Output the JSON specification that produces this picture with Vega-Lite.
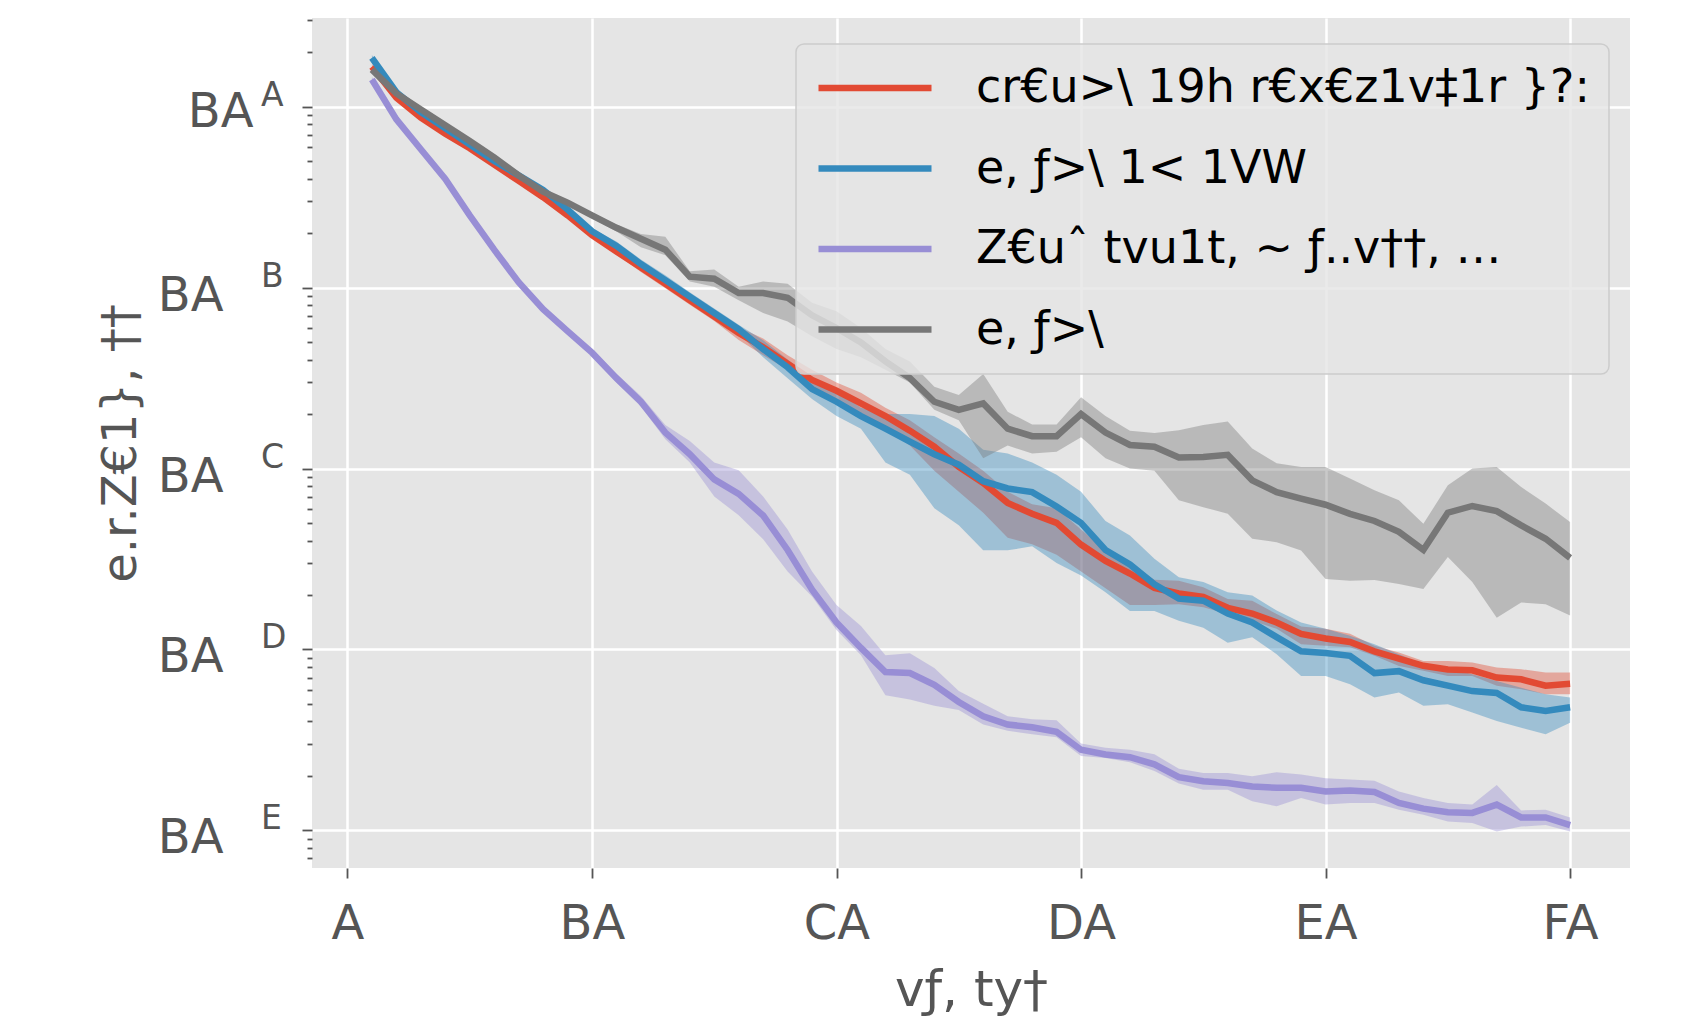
{
"$schema": "https://vega.github.io/schema/vega-lite/v6.json",
"autosize": {"type": "none"},
"padding": {"left": 312, "top": 18, "right": 59, "bottom": 156},
"width": 1318, "height": 850,
"background": "#FFFFFF",
"datasets": {
"runs": [
{"m":"cr€u>\\ 19h r€x€z1v‡1r }?:","x":1,"y":1.66,"lo":1.604,"hi":1.718},
{"m":"cr€u>\\ 19h r€x€z1v‡1r }?:","x":2,"y":1.122,"lo":1.084,"hi":1.161},
{"m":"cr€u>\\ 19h r€x€z1v‡1r }?:","x":3,"y":0.871,"lo":0.841,"hi":0.901},
{"m":"cr€u>\\ 19h r€x€z1v‡1r }?:","x":4,"y":0.708,"lo":0.684,"hi":0.733},
{"m":"cr€u>\\ 19h r€x€z1v‡1r }?:","x":5,"y":0.589,"lo":0.569,"hi":0.61},
{"m":"cr€u>\\ 19h r€x€z1v‡1r }?:","x":6,"y":0.479,"lo":0.463,"hi":0.496},
{"m":"cr€u>\\ 19h r€x€z1v‡1r }?:","x":7,"y":0.389,"lo":0.376,"hi":0.403},
{"m":"cr€u>\\ 19h r€x€z1v‡1r }?:","x":8,"y":0.316,"lo":0.305,"hi":0.327},
{"m":"cr€u>\\ 19h r€x€z1v‡1r }?:","x":9,"y":0.251,"lo":0.242,"hi":0.26},
{"m":"cr€u>\\ 19h r€x€z1v‡1r }?:","x":10,"y":0.195,"lo":0.188,"hi":0.202},
{"m":"cr€u>\\ 19h r€x€z1v‡1r }?:","x":11,"y":0.158,"lo":0.153,"hi":0.164},
{"m":"cr€u>\\ 19h r€x€z1v‡1r }?:","x":12,"y":0.129,"lo":0.122,"hi":0.137},
{"m":"cr€u>\\ 19h r€x€z1v‡1r }?:","x":13,"y":0.105,"lo":0.0991,"hi":0.111},
{"m":"cr€u>\\ 19h r€x€z1v‡1r }?:","x":14,"y":0.0851,"lo":0.0803,"hi":0.0901},
{"m":"cr€u>\\ 19h r€x€z1v‡1r }?:","x":15,"y":0.0692,"lo":0.0653,"hi":0.0733},
{"m":"cr€u>\\ 19h r€x€z1v‡1r }?:","x":16,"y":0.0562,"lo":0.0513,"hi":0.0603},
{"m":"cr€u>\\ 19h r€x€z1v‡1r }?:","x":17,"y":0.0468,"lo":0.0423,"hi":0.0524},
{"m":"cr€u>\\ 19h r€x€z1v‡1r }?:","x":18,"y":0.038,"lo":0.0351,"hi":0.0423},
{"m":"cr€u>\\ 19h r€x€z1v‡1r }?:","x":19,"y":0.0309,"lo":0.0283,"hi":0.0351},
{"m":"cr€u>\\ 19h r€x€z1v‡1r }?:","x":20,"y":0.0269,"lo":0.0242,"hi":0.0299},
{"m":"cr€u>\\ 19h r€x€z1v‡1r }?:","x":21,"y":0.0229,"lo":0.02,"hi":0.0262},
{"m":"cr€u>\\ 19h r€x€z1v‡1r }?:","x":22,"y":0.0195,"lo":0.0166,"hi":0.0217},
{"m":"cr€u>\\ 19h r€x€z1v‡1r }?:","x":23,"y":0.0162,"lo":0.0134,"hi":0.0185},
{"m":"cr€u>\\ 19h r€x€z1v‡1r }?:","x":24,"y":0.0132,"lo":0.00973,"hi":0.0149},
{"m":"cr€u>\\ 19h r€x€z1v‡1r }?:","x":25,"y":0.0102,"lo":0.00745,"hi":0.0121},
{"m":"cr€u>\\ 19h r€x€z1v‡1r }?:","x":26,"y":0.00832,"lo":0.0057,"hi":0.00973},
{"m":"cr€u>\\ 19h r€x€z1v‡1r }?:","x":27,"y":0.00646,"lo":0.00414,"hi":0.00745},
{"m":"cr€u>\\ 19h r€x€z1v‡1r }?:","x":28,"y":0.00562,"lo":0.00382,"hi":0.00635},
{"m":"cr€u>\\ 19h r€x€z1v‡1r }?:","x":29,"y":0.00501,"lo":0.00334,"hi":0.00603},
{"m":"cr€u>\\ 19h r€x€z1v‡1r }?:","x":30,"y":0.0038,"lo":0.0027,"hi":0.00461},
{"m":"cr€u>\\ 19h r€x€z1v‡1r }?:","x":31,"y":0.00309,"lo":0.00218,"hi":0.00353},
{"m":"cr€u>\\ 19h r€x€z1v‡1r }?:","x":32,"y":0.00263,"lo":0.00176,"hi":0.00301},
{"m":"cr€u>\\ 19h r€x€z1v‡1r }?:","x":33,"y":0.00219,"lo":0.00176,"hi":0.00243},
{"m":"cr€u>\\ 19h r€x€z1v‡1r }?:","x":34,"y":0.00204,"lo":0.00178,"hi":0.0024},
{"m":"cr€u>\\ 19h r€x€z1v‡1r }?:","x":35,"y":0.00195,"lo":0.00171,"hi":0.00221},
{"m":"cr€u>\\ 19h r€x€z1v‡1r }?:","x":36,"y":0.0017,"lo":0.00157,"hi":0.0019},
{"m":"cr€u>\\ 19h r€x€z1v‡1r }?:","x":37,"y":0.00158,"lo":0.00144,"hi":0.00186},
{"m":"cr€u>\\ 19h r€x€z1v‡1r }?:","x":38,"y":0.00141,"lo":0.0013,"hi":0.00157},
{"m":"cr€u>\\ 19h r€x€z1v‡1r }?:","x":39,"y":0.00122,"lo":0.00107,"hi":0.00134},
{"m":"cr€u>\\ 19h r€x€z1v‡1r }?:","x":40,"y":0.00115,"lo":0.00105,"hi":0.0013},
{"m":"cr€u>\\ 19h r€x€z1v‡1r }?:","x":41,"y":0.0011,"lo":0.00103,"hi":0.00122},
{"m":"cr€u>\\ 19h r€x€z1v‡1r }?:","x":42,"y":0.000977,"lo":0.000923,"hi":0.00105},
{"m":"cr€u>\\ 19h r€x€z1v‡1r }?:","x":43,"y":0.000891,"lo":0.000811,"hi":0.000962},
{"m":"cr€u>\\ 19h r€x€z1v‡1r }?:","x":44,"y":0.000813,"lo":0.000762,"hi":0.000865},
{"m":"cr€u>\\ 19h r€x€z1v‡1r }?:","x":45,"y":0.000776,"lo":0.000714,"hi":0.000865},
{"m":"cr€u>\\ 19h r€x€z1v‡1r }?:","x":46,"y":0.000767,"lo":0.000714,"hi":0.000847},
{"m":"cr€u>\\ 19h r€x€z1v‡1r }?:","x":47,"y":0.0007,"lo":0.00063,"hi":0.000794},
{"m":"cr€u>\\ 19h r€x€z1v‡1r }?:","x":48,"y":0.000684,"lo":0.000603,"hi":0.000778},
{"m":"cr€u>\\ 19h r€x€z1v‡1r }?:","x":49,"y":0.000631,"lo":0.000565,"hi":0.000745},
{"m":"cr€u>\\ 19h r€x€z1v‡1r }?:","x":50,"y":0.000646,"lo":0.000565,"hi":0.000745},
{"m":"e, ƒ>\\ 1< 1VW","x":1,"y":1.862,"lo":1.799,"hi":1.927},
{"m":"e, ƒ>\\ 1< 1VW","x":2,"y":1.202,"lo":1.161,"hi":1.244},
{"m":"e, ƒ>\\ 1< 1VW","x":3,"y":0.933,"lo":0.901,"hi":0.966},
{"m":"e, ƒ>\\ 1< 1VW","x":4,"y":0.759,"lo":0.733,"hi":0.786},
{"m":"e, ƒ>\\ 1< 1VW","x":5,"y":0.617,"lo":0.596,"hi":0.639},
{"m":"e, ƒ>\\ 1< 1VW","x":6,"y":0.501,"lo":0.484,"hi":0.519},
{"m":"e, ƒ>\\ 1< 1VW","x":7,"y":0.417,"lo":0.403,"hi":0.432},
{"m":"e, ƒ>\\ 1< 1VW","x":8,"y":0.347,"lo":0.335,"hi":0.359},
{"m":"e, ƒ>\\ 1< 1VW","x":9,"y":0.27,"lo":0.261,"hi":0.28},
{"m":"e, ƒ>\\ 1< 1VW","x":10,"y":0.205,"lo":0.198,"hi":0.212},
{"m":"e, ƒ>\\ 1< 1VW","x":11,"y":0.17,"lo":0.16,"hi":0.18},
{"m":"e, ƒ>\\ 1< 1VW","x":12,"y":0.135,"lo":0.127,"hi":0.143},
{"m":"e, ƒ>\\ 1< 1VW","x":13,"y":0.11,"lo":0.104,"hi":0.117},
{"m":"e, ƒ>\\ 1< 1VW","x":14,"y":0.0891,"lo":0.0841,"hi":0.0944},
{"m":"e, ƒ>\\ 1< 1VW","x":15,"y":0.0724,"lo":0.0683,"hi":0.0767},
{"m":"e, ƒ>\\ 1< 1VW","x":16,"y":0.0589,"lo":0.0556,"hi":0.0624},
{"m":"e, ƒ>\\ 1< 1VW","x":17,"y":0.0457,"lo":0.0412,"hi":0.0511},
{"m":"e, ƒ>\\ 1< 1VW","x":18,"y":0.0363,"lo":0.0316,"hi":0.0401},
{"m":"e, ƒ>\\ 1< 1VW","x":19,"y":0.0275,"lo":0.0242,"hi":0.0316},
{"m":"e, ƒ>\\ 1< 1VW","x":20,"y":0.0234,"lo":0.0195,"hi":0.0269},
{"m":"e, ƒ>\\ 1< 1VW","x":21,"y":0.0195,"lo":0.0166,"hi":0.0217},
{"m":"e, ƒ>\\ 1< 1VW","x":22,"y":0.0166,"lo":0.0108,"hi":0.02},
{"m":"e, ƒ>\\ 1< 1VW","x":23,"y":0.0141,"lo":0.00923,"hi":0.02},
{"m":"e, ƒ>\\ 1< 1VW","x":24,"y":0.012,"lo":0.00603,"hi":0.0195},
{"m":"e, ƒ>\\ 1< 1VW","x":25,"y":0.0105,"lo":0.00486,"hi":0.0166},
{"m":"e, ƒ>\\ 1< 1VW","x":26,"y":0.00851,"lo":0.00353,"hi":0.0127},
{"m":"e, ƒ>\\ 1< 1VW","x":27,"y":0.00776,"lo":0.00353,"hi":0.0121},
{"m":"e, ƒ>\\ 1< 1VW","x":28,"y":0.00741,"lo":0.00372,"hi":0.0108},
{"m":"e, ƒ>\\ 1< 1VW","x":29,"y":0.00617,"lo":0.00301,"hi":0.00923},
{"m":"e, ƒ>\\ 1< 1VW","x":30,"y":0.00501,"lo":0.00256,"hi":0.00745},
{"m":"e, ƒ>\\ 1< 1VW","x":31,"y":0.00355,"lo":0.00207,"hi":0.00513},
{"m":"e, ƒ>\\ 1< 1VW","x":32,"y":0.00295,"lo":0.00163,"hi":0.00426},
{"m":"e, ƒ>\\ 1< 1VW","x":33,"y":0.00229,"lo":0.00163,"hi":0.00317},
{"m":"e, ƒ>\\ 1< 1VW","x":34,"y":0.00191,"lo":0.00144,"hi":0.00251},
{"m":"e, ƒ>\\ 1< 1VW","x":35,"y":0.00186,"lo":0.00132,"hi":0.00236},
{"m":"e, ƒ>\\ 1< 1VW","x":36,"y":0.00158,"lo":0.00109,"hi":0.00207},
{"m":"e, ƒ>\\ 1< 1VW","x":37,"y":0.00141,"lo":0.00117,"hi":0.00199},
{"m":"e, ƒ>\\ 1< 1VW","x":38,"y":0.00117,"lo":0.000942,"hi":0.00164},
{"m":"e, ƒ>\\ 1< 1VW","x":39,"y":0.000977,"lo":0.000714,"hi":0.00141},
{"m":"e, ƒ>\\ 1< 1VW","x":40,"y":0.000955,"lo":0.000714,"hi":0.0013},
{"m":"e, ƒ>\\ 1< 1VW","x":41,"y":0.000923,"lo":0.000643,"hi":0.00119},
{"m":"e, ƒ>\\ 1< 1VW","x":42,"y":0.000741,"lo":0.000542,"hi":0.00107},
{"m":"e, ƒ>\\ 1< 1VW","x":43,"y":0.000759,"lo":0.000578,"hi":0.000942},
{"m":"e, ƒ>\\ 1< 1VW","x":44,"y":0.000676,"lo":0.000488,"hi":0.00083},
{"m":"e, ƒ>\\ 1< 1VW","x":45,"y":0.000631,"lo":0.000498,"hi":0.000794},
{"m":"e, ƒ>\\ 1< 1VW","x":46,"y":0.000589,"lo":0.000448,"hi":0.000729},
{"m":"e, ƒ>\\ 1< 1VW","x":47,"y":0.000575,"lo":0.000402,"hi":0.00067},
{"m":"e, ƒ>\\ 1< 1VW","x":48,"y":0.000479,"lo":0.000369,"hi":0.000615},
{"m":"e, ƒ>\\ 1< 1VW","x":49,"y":0.000457,"lo":0.00034,"hi":0.000565},
{"m":"e, ƒ>\\ 1< 1VW","x":50,"y":0.000479,"lo":0.000394,"hi":0.000542},
{"m":"Z€uˆ tvu1t, ~ ƒ..v††, …","x":1,"y":1.413,"lo":1.365,"hi":1.462},
{"m":"Z€uˆ tvu1t, ~ ƒ..v††, …","x":2,"y":0.851,"lo":0.822,"hi":0.881},
{"m":"Z€uˆ tvu1t, ~ ƒ..v††, …","x":3,"y":0.582,"lo":0.562,"hi":0.602},
{"m":"Z€uˆ tvu1t, ~ ƒ..v††, …","x":4,"y":0.398,"lo":0.384,"hi":0.412},
{"m":"Z€uˆ tvu1t, ~ ƒ..v††, …","x":5,"y":0.251,"lo":0.242,"hi":0.26},
{"m":"Z€uˆ tvu1t, ~ ƒ..v††, …","x":6,"y":0.162,"lo":0.156,"hi":0.168},
{"m":"Z€uˆ tvu1t, ~ ƒ..v††, …","x":7,"y":0.107,"lo":0.103,"hi":0.111},
{"m":"Z€uˆ tvu1t, ~ ƒ..v††, …","x":8,"y":0.0759,"lo":0.0733,"hi":0.0786},
{"m":"Z€uˆ tvu1t, ~ ƒ..v††, …","x":9,"y":0.0575,"lo":0.0555,"hi":0.0595},
{"m":"Z€uˆ tvu1t, ~ ƒ..v††, …","x":10,"y":0.0437,"lo":0.0422,"hi":0.0452},
{"m":"Z€uˆ tvu1t, ~ ƒ..v††, …","x":11,"y":0.0316,"lo":0.0298,"hi":0.0335},
{"m":"Z€uˆ tvu1t, ~ ƒ..v††, …","x":12,"y":0.0234,"lo":0.022,"hi":0.0252},
{"m":"Z€uˆ tvu1t, ~ ƒ..v††, …","x":13,"y":0.0158,"lo":0.0145,"hi":0.0174},
{"m":"Z€uˆ tvu1t, ~ ƒ..v††, …","x":14,"y":0.012,"lo":0.0108,"hi":0.0142},
{"m":"Z€uˆ tvu1t, ~ ƒ..v††, …","x":15,"y":0.00871,"lo":0.007,"hi":0.0108},
{"m":"Z€uˆ tvu1t, ~ ƒ..v††, …","x":16,"y":0.00724,"lo":0.00552,"hi":0.0098},
{"m":"Z€uˆ tvu1t, ~ ƒ..v††, …","x":17,"y":0.0055,"lo":0.00407,"hi":0.007},
{"m":"Z€uˆ tvu1t, ~ ƒ..v††, …","x":18,"y":0.00355,"lo":0.0027,"hi":0.00461},
{"m":"Z€uˆ tvu1t, ~ ƒ..v††, …","x":19,"y":0.00214,"lo":0.00196,"hi":0.0027},
{"m":"Z€uˆ tvu1t, ~ ƒ..v††, …","x":20,"y":0.00141,"lo":0.00128,"hi":0.00176},
{"m":"Z€uˆ tvu1t, ~ ƒ..v††, …","x":21,"y":0.00102,"lo":0.000929,"hi":0.00135},
{"m":"Z€uˆ tvu1t, ~ ƒ..v††, …","x":22,"y":0.00075,"lo":0.000558,"hi":0.000929},
{"m":"Z€uˆ tvu1t, ~ ƒ..v††, …","x":23,"y":0.000741,"lo":0.00053,"hi":0.000953},
{"m":"Z€uˆ tvu1t, ~ ƒ..v††, …","x":24,"y":0.000638,"lo":0.000489,"hi":0.000791},
{"m":"Z€uˆ tvu1t, ~ ƒ..v††, …","x":25,"y":0.000513,"lo":0.000463,"hi":0.000589},
{"m":"Z€uˆ tvu1t, ~ ƒ..v††, …","x":26,"y":0.000427,"lo":0.000385,"hi":0.000502},
{"m":"Z€uˆ tvu1t, ~ ƒ..v††, …","x":27,"y":0.000385,"lo":0.000355,"hi":0.000428},
{"m":"Z€uˆ tvu1t, ~ ƒ..v††, …","x":28,"y":0.000372,"lo":0.00034,"hi":0.000412},
{"m":"Z€uˆ tvu1t, ~ ƒ..v††, …","x":29,"y":0.000351,"lo":0.000327,"hi":0.000406},
{"m":"Z€uˆ tvu1t, ~ ƒ..v††, …","x":30,"y":0.000279,"lo":0.000258,"hi":0.000302},
{"m":"Z€uˆ tvu1t, ~ ƒ..v††, …","x":31,"y":0.000263,"lo":0.000251,"hi":0.000286},
{"m":"Z€uˆ tvu1t, ~ ƒ..v††, …","x":32,"y":0.000254,"lo":0.000238,"hi":0.000279},
{"m":"Z€uˆ tvu1t, ~ ƒ..v††, …","x":33,"y":0.000232,"lo":0.000213,"hi":0.000264},
{"m":"Z€uˆ tvu1t, ~ ƒ..v††, …","x":34,"y":0.000197,"lo":0.000182,"hi":0.000219},
{"m":"Z€uˆ tvu1t, ~ ƒ..v††, …","x":35,"y":0.000187,"lo":0.000168,"hi":0.000208},
{"m":"Z€uˆ tvu1t, ~ ƒ..v††, …","x":36,"y":0.000183,"lo":0.000168,"hi":0.000208},
{"m":"Z€uˆ tvu1t, ~ ƒ..v††, …","x":37,"y":0.000175,"lo":0.000145,"hi":0.000199},
{"m":"Z€uˆ tvu1t, ~ ƒ..v††, …","x":38,"y":0.000172,"lo":0.000136,"hi":0.00021},
{"m":"Z€uˆ tvu1t, ~ ƒ..v††, …","x":39,"y":0.000172,"lo":0.000151,"hi":0.000204},
{"m":"Z€uˆ tvu1t, ~ ƒ..v††, …","x":40,"y":0.000164,"lo":0.000139,"hi":0.000194},
{"m":"Z€uˆ tvu1t, ~ ƒ..v††, …","x":41,"y":0.000166,"lo":0.000142,"hi":0.000191},
{"m":"Z€uˆ tvu1t, ~ ƒ..v††, …","x":42,"y":0.000163,"lo":0.000142,"hi":0.000188},
{"m":"Z€uˆ tvu1t, ~ ƒ..v††, …","x":43,"y":0.000142,"lo":0.00013,"hi":0.000164},
{"m":"Z€uˆ tvu1t, ~ ƒ..v††, …","x":44,"y":0.000132,"lo":0.000122,"hi":0.000151},
{"m":"Z€uˆ tvu1t, ~ ƒ..v††, …","x":45,"y":0.000126,"lo":0.000112,"hi":0.000142},
{"m":"Z€uˆ tvu1t, ~ ƒ..v††, …","x":46,"y":0.000125,"lo":0.00011,"hi":0.000139},
{"m":"Z€uˆ tvu1t, ~ ƒ..v††, …","x":47,"y":0.000139,"lo":0.0000986,"hi":0.000178},
{"m":"Z€uˆ tvu1t, ~ ƒ..v††, …","x":48,"y":0.000118,"lo":0.000105,"hi":0.000129},
{"m":"Z€uˆ tvu1t, ~ ƒ..v††, …","x":49,"y":0.000118,"lo":0.000107,"hi":0.00013},
{"m":"Z€uˆ tvu1t, ~ ƒ..v††, …","x":50,"y":0.000107,"lo":0.0000986,"hi":0.000118},
{"m":"e, ƒ>\\","x":1,"y":1.603,"lo":1.548,"hi":1.659},
{"m":"e, ƒ>\\","x":2,"y":1.183,"lo":1.143,"hi":1.224},
{"m":"e, ƒ>\\","x":3,"y":0.966,"lo":0.933,"hi":1.0},
{"m":"e, ƒ>\\","x":4,"y":0.789,"lo":0.762,"hi":0.817},
{"m":"e, ƒ>\\","x":5,"y":0.646,"lo":0.624,"hi":0.669},
{"m":"e, ƒ>\\","x":6,"y":0.525,"lo":0.507,"hi":0.543},
{"m":"e, ƒ>\\","x":7,"y":0.417,"lo":0.403,"hi":0.432},
{"m":"e, ƒ>\\","x":8,"y":0.339,"lo":0.327,"hi":0.351},
{"m":"e, ƒ>\\","x":9,"y":0.295,"lo":0.285,"hi":0.305},
{"m":"e, ƒ>\\","x":10,"y":0.251,"lo":0.242,"hi":0.26},
{"m":"e, ƒ>\\","x":11,"y":0.214,"lo":0.204,"hi":0.224},
{"m":"e, ƒ>\\","x":12,"y":0.186,"lo":0.167,"hi":0.198},
{"m":"e, ƒ>\\","x":13,"y":0.162,"lo":0.151,"hi":0.191},
{"m":"e, ƒ>\\","x":14,"y":0.115,"lo":0.108,"hi":0.123},
{"m":"e, ƒ>\\","x":15,"y":0.112,"lo":0.101,"hi":0.126},
{"m":"e, ƒ>\\","x":16,"y":0.0933,"lo":0.0851,"hi":0.101},
{"m":"e, ƒ>\\","x":17,"y":0.0933,"lo":0.0724,"hi":0.108},
{"m":"e, ƒ>\\","x":18,"y":0.0879,"lo":0.0649,"hi":0.105},
{"m":"e, ƒ>\\","x":19,"y":0.0703,"lo":0.0538,"hi":0.0824},
{"m":"e, ƒ>\\","x":20,"y":0.0598,"lo":0.0458,"hi":0.0741},
{"m":"e, ƒ>\\","x":21,"y":0.0497,"lo":0.0412,"hi":0.0598},
{"m":"e, ƒ>\\","x":22,"y":0.0391,"lo":0.0351,"hi":0.0458},
{"m":"e, ƒ>\\","x":23,"y":0.0316,"lo":0.0299,"hi":0.0391},
{"m":"e, ƒ>\\","x":24,"y":0.0234,"lo":0.0211,"hi":0.0283},
{"m":"e, ƒ>\\","x":25,"y":0.0211,"lo":0.0185,"hi":0.0255},
{"m":"e, ƒ>\\","x":26,"y":0.0229,"lo":0.0114,"hi":0.0333},
{"m":"e, ƒ>\\","x":27,"y":0.0166,"lo":0.0134,"hi":0.0206},
{"m":"e, ƒ>\\","x":28,"y":0.0151,"lo":0.0121,"hi":0.0175},
{"m":"e, ƒ>\\","x":29,"y":0.0151,"lo":0.0124,"hi":0.0175},
{"m":"e, ƒ>\\","x":30,"y":0.02,"lo":0.0149,"hi":0.0248},
{"m":"e, ƒ>\\","x":31,"y":0.0158,"lo":0.0114,"hi":0.0195},
{"m":"e, ƒ>\\","x":32,"y":0.0135,"lo":0.01,"hi":0.0162},
{"m":"e, ƒ>\\","x":33,"y":0.0132,"lo":0.00973,"hi":0.0157},
{"m":"e, ƒ>\\","x":34,"y":0.0115,"lo":0.00667,"hi":0.0163},
{"m":"e, ƒ>\\","x":35,"y":0.0116,"lo":0.00612,"hi":0.0174},
{"m":"e, ƒ>\\","x":36,"y":0.0119,"lo":0.00562,"hi":0.0182},
{"m":"e, ƒ>\\","x":37,"y":0.00861,"lo":0.00409,"hi":0.0129},
{"m":"e, ƒ>\\","x":38,"y":0.00741,"lo":0.00392,"hi":0.0107},
{"m":"e, ƒ>\\","x":39,"y":0.00682,"lo":0.00352,"hi":0.0102},
{"m":"e, ƒ>\\","x":40,"y":0.00631,"lo":0.00245,"hi":0.0102},
{"m":"e, ƒ>\\","x":41,"y":0.00562,"lo":0.0024,"hi":0.00881},
{"m":"e, ƒ>\\","x":42,"y":0.00513,"lo":0.00242,"hi":0.00759},
{"m":"e, ƒ>\\","x":43,"y":0.00447,"lo":0.0023,"hi":0.00667},
{"m":"e, ƒ>\\","x":44,"y":0.00355,"lo":0.00216,"hi":0.00495},
{"m":"e, ƒ>\\","x":45,"y":0.0057,"lo":0.00324,"hi":0.00809},
{"m":"e, ƒ>\\","x":46,"y":0.00621,"lo":0.00236,"hi":0.01},
{"m":"e, ƒ>\\","x":47,"y":0.00582,"lo":0.0015,"hi":0.0102},
{"m":"e, ƒ>\\","x":48,"y":0.00485,"lo":0.00182,"hi":0.00791},
{"m":"e, ƒ>\\","x":49,"y":0.00409,"lo":0.00178,"hi":0.0064},
{"m":"e, ƒ>\\","x":50,"y":0.00321,"lo":0.00154,"hi":0.00506}
],
"sup": [
{"v":1,"s":"A"},{"v":0.1,"s":"B"},{"v":0.01,"s":"C"},{"v":0.001,"s":"D"},{"v":0.0001,"s":"E"}
]
},
"layer": [
{
"data": {"name": "runs"},
"mark": {"type": "area", "opacity": 0.4},
"encoding": {
"x": {"field": "x", "type": "quantitative", "scale": {"domain": [-1.45, 52.45], "nice": false, "zero": false}, "axis": {"title": "vƒ, ty†"}},
"y": {"field": "lo", "type": "quantitative", "scale": {"type": "log", "domain": [0.000062, 3.09], "nice": false}, "axis": {"title": "e.r.Z€1}, ††"}},
"y2": {"field": "hi"},
"fill": {"field": "m", "type": "nominal", "sort": null, "legend": null,
"scale": {"domain": ["e, ƒ>\\", "Z€uˆ tvu1t, ~ ƒ..v††, …", "e, ƒ>\\ 1< 1VW", "cr€u>\\ 19h r€x€z1v‡1r }?:"], "range": ["#777777", "#988ED5", "#348ABD", "#E24A33"]}}
}
},
{
"data": {"name": "runs"},
"mark": {"type": "line", "strokeWidth": 6.5},
"encoding": {
"x": {"field": "x", "type": "quantitative", "scale": {"domain": [-1.45, 52.45], "nice": false, "zero": false},
"axis": {"title": "vƒ, ty†", "values": [0, 10, 20, 30, 40, 50], "labelExpr": "['A','BA','CA','DA','EA','FA'][round(datum.value/10)]", "tickSize": 10, "labelPadding": 22, "titlePadding": 17, "titleFontSize": 50}},
"y": {"field": "y", "type": "quantitative", "scale": {"type": "log", "domain": [0.000062, 3.09], "nice": false},
"axis": {"title": "e.r.Z€1}, ††",
"values": [3,2,1,0.9,0.8,0.7,0.6,0.5,0.4,0.3,0.2,0.1,0.09,0.08,0.07,0.06,0.05,0.04,0.03,0.02,0.01,0.009,0.008,0.007,0.006,0.005,0.004,0.003,0.002,0.001,0.0009,0.0008,0.0007,0.0006,0.0005,0.0004,0.0003,0.0002,0.0001,0.00009,0.00008,0.00007],
"labelExpr": "datum.value==1||datum.value==0.1||datum.value==0.01||datum.value==0.001||datum.value==0.0001 ? 'BA' : ''",
"tickSize": {"condition": {"test": "datum.value==1||datum.value==0.1||datum.value==0.01||datum.value==0.001||datum.value==0.0001", "value": 10}, "value": 5},
"gridOpacity": {"condition": {"test": "datum.value==1||datum.value==0.1||datum.value==0.01||datum.value==0.001||datum.value==0.0001", "value": 1}, "value": 0},
"labelPadding": {"condition": {"test": "datum.value==1", "value": 49}, "value": 79},
"labelOffset": {"condition": {"test": "datum.value==1", "value": 6}, "value": 8.5},
"titlePadding": 12}},
"stroke": {"field": "m", "type": "nominal", "sort": null,
"scale": {"domain": ["cr€u>\\ 19h r€x€z1v‡1r }?:", "e, ƒ>\\ 1< 1VW", "Z€uˆ tvu1t, ~ ƒ..v††, …", "e, ƒ>\\"], "range": ["#E24A33", "#348ABD", "#988ED5", "#777777"]},
"legend": {"title": null, "orient": "none", "legendX": 484, "legendY": 26, "symbolType": "stroke", "symbolSize": 12769, "symbolStrokeWidth": 6.5, "symbolOffset": 0, "symbolOpacity": 1, "labelOffset": 41, "labelFontSize": 46, "labelFont": "DejaVu Sans", "labelColor": "#000000", "labelLimit": 2000, "padding": 19, "rowPadding": 30.5, "clipHeight": 50, "fillColor": "rgba(229,229,229,0.8)", "strokeColor": "#CCCCCC", "cornerRadius": 8}}
}
},
{
"data": {"name": "sup"},
"mark": {"type": "text", "align": "left", "baseline": "middle", "dy": -11, "fontSize": 33, "color": "#555555", "font": "DejaVu Sans"},
"encoding": {
"x": {"datum": -3.54, "type": "quantitative", "scale": {"domain": [-1.45, 52.45], "nice": false, "zero": false}, "axis": {"title": "vƒ, ty†"}},
"y": {"field": "v", "type": "quantitative", "scale": {"type": "log", "domain": [0.000062, 3.09], "nice": false}, "axis": {"title": "e.r.Z€1}, ††"}},
"text": {"field": "s", "type": "nominal"}
}
}
],
"config": {
"font": "DejaVu Sans",
"view": {"fill": "#E5E5E5", "stroke": null},
"axis": {"domain": false, "gridColor": "#FFFFFF", "gridWidth": 2.5, "tickColor": "#555555", "tickWidth": 1.8, "labelColor": "#555555", "titleColor": "#555555", "labelFont": "DejaVu Sans", "titleFont": "DejaVu Sans", "labelFontSize": 48, "titleFontSize": 48, "titleFontWeight": "normal", "labelFlush": false, "labelOverlap": false},
"legend": {"strokeWidth": 1.5}
}
}
